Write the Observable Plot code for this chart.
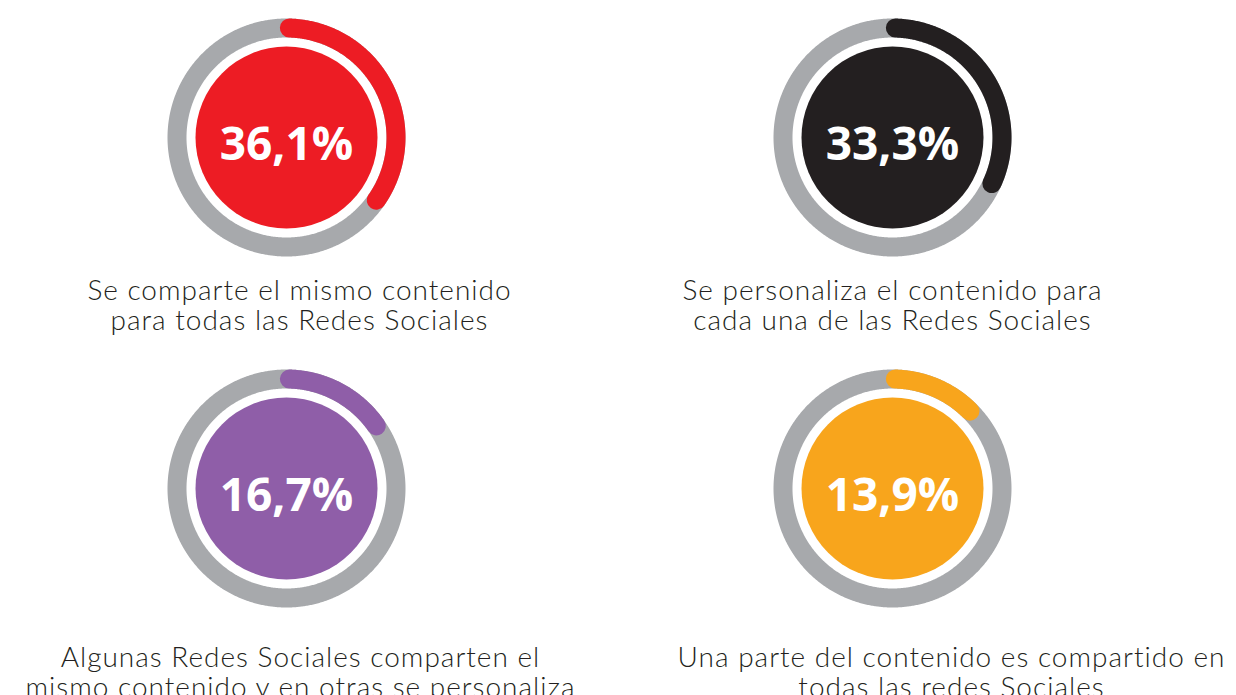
<!DOCTYPE html>
<html>
<head>
<meta charset="utf-8">
<script src="https://cdn.jsdelivr.net/npm/d3@7"></script>
<script src="https://cdn.jsdelivr.net/npm/@observablehq/plot@0.6"></script>
<style>
  html, body { margin: 0; padding: 0; background: #fff; }
  #chart svg { display: block; }
</style>
</head>
<body>
<div id="chart"></div>
<script>
// ---- data ----
const categories = [
  "Se comparte el mismo contenido\npara todas las Redes Sociales",
  "Se personaliza el contenido para\ncada una de las Redes Sociales",
  "Algunas Redes Sociales comparten el\nmismo contenido y en otras se personaliza",
  "Una parte del contenido es compartido en\ntodas las redes Sociales"
];
const values = [36.1, 33.3, 16.7, 13.9];
const valueLabels = ["36,1%", "33,3%", "16,7%", "13,9%"];
const colors = ["#ed1c24", "#231f20", "#8f5ea8", "#f8a51c"];

// ---- layout (pixels) ----
const W = 1236, H = 695;
const centers = [[286, 137], [892, 137], [286, 488], [892, 488]];
const labelPos = [[299, 278], [892, 278], [300, 645], [951, 645]];
const ringR = 109.5, ringW = 19, innerR = 91, capDeg = 5, startDeg = 1.5;

const donuts = values.map((v, i) => ({
  i, value: v, pct: valueLabels[i], label: categories[i], color: colors[i],
  cx: centers[i][0], cy: centers[i][1], lx: labelPos[i][0], ly: labelPos[i][1]
}));

function arcPoints(d, a0, a1) {
  const pts = [];
  const n = Math.max(2, Math.ceil((a1 - a0) / 0.5));
  for (let k = 0; k <= n; k++) {
    const a = (a0 + (a1 - a0) * k / n) * Math.PI / 180;
    pts.push({ i: d.i, color: d.color, x: d.cx + ringR * Math.sin(a), y: d.cy - ringR * Math.cos(a) });
  }
  return pts;
}
const rings = donuts.flatMap(d => arcPoints(d, 0, 360));
const arcs = donuts.flatMap(d => arcPoints(d, startDeg, d.value * 3.6 - capDeg));

const chart = Plot.plot({
  width: W, height: H,
  margin: 0,
  x: { domain: [0, W], range: [0, W], axis: null },
  y: { domain: [0, H], range: [0, H], axis: null },
  color: { type: "identity" },
  style: { background: "#fff", overflow: "visible" },
  marks: [
    Plot.line(rings, { x: "x", y: "y", z: "i", stroke: "#a7a9ac", strokeWidth: ringW }),
    Plot.line(arcs, { x: "x", y: "y", z: "i", stroke: "color", strokeWidth: ringW, strokeLinecap: "round" }),
    Plot.dot(donuts, { x: "cx", y: "cy", r: innerR, fill: "color", stroke: null }),
    Plot.text(donuts, { x: "cx", y: "cy", text: "pct", fill: "white", fontSize: 46, fontWeight: 700, fontFamily: "Open Sans", dy: 8 }),
    Plot.text(donuts, { x: "lx", y: "ly", text: "label", lineAnchor: "top", fontSize: 28, lineHeight: 1.08, fill: "#231f20", fontFamily: "Lato", fontWeight: 300 })
  ]
});
d3.select(chart).selectAll("text")
  .filter(function () { return this.closest("[font-family]") && this.closest("[font-family]").getAttribute("font-family") === "Lato"; })
  .style("letter-spacing", "1px");
document.getElementById("chart").appendChild(chart);
</script>
</body>
</html>
